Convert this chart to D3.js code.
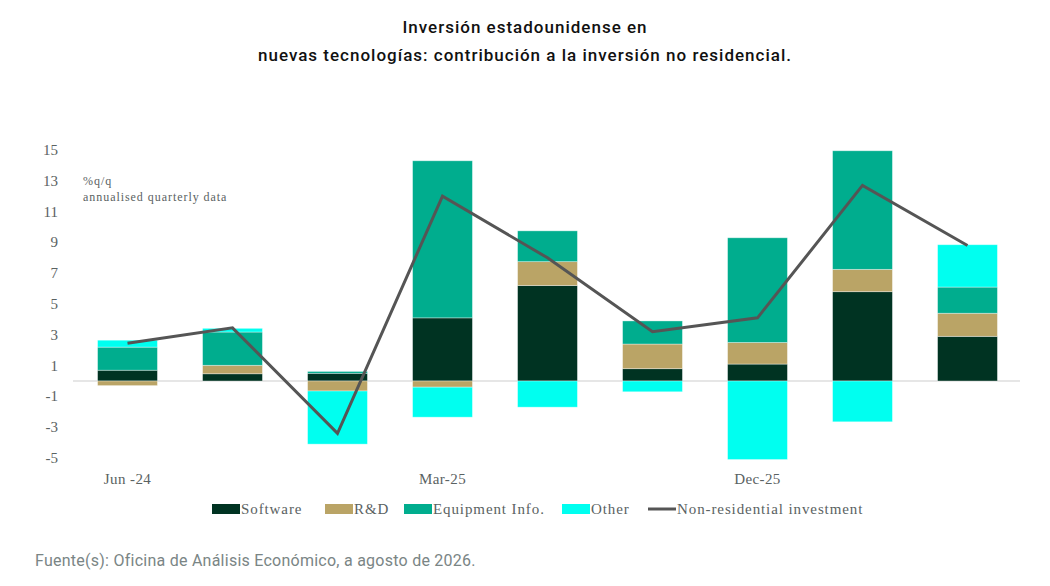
<!DOCTYPE html>
<html>
<head>
<meta charset="utf-8">
<script src="https://cdn.jsdelivr.net/npm/d3@7"></script>
<style>
  body { margin:0; background:#fff; }
  svg { display:block; }
</style>
</head>
<body>
<svg id="chart" width="1050" height="586"></svg>
<script>
// quarters, only some get a label on the axis
let quarters = ["Jun-24","Sep-24","Dec-24","Mar-25","Jun-25","Sep-25","Dec-25","Mar-26","Jun-26"];
let tickLabels = {"Jun-24":"Jun -24", "Mar-25":"Mar-25", "Dec-25":"Dec-25"};

let software  = [0.7, 0.47, 0.5, 4.1, 6.2, 0.8, 1.1, 5.8, 2.9];
let rnd       = [-0.3, 0.55, -0.65, -0.4, 1.55, 1.6, 1.4, 1.45, 1.5];
let equipment = [1.5, 2.16, 0.12, 10.2, 2.0, 1.5, 6.8, 7.7, 1.7];
let other     = [0.45, 0.24, -3.45, -1.95, -1.7, -0.7, -5.1, -2.65, 2.75];
let nonres    = [2.45, 3.45, -3.4, 12.0, 8.0, 3.2, 4.1, 12.7, 8.8];

let yTicks = [15, 13, 11, 9, 7, 5, 3, 1, -1, -3, -5];

let seriesNames = ["Software", "R&D", "Equipment Info.", "Other"];
let seriesVals  = [software, rnd, equipment, other];
let colors      = ["#003322", "#baa466", "#00ad8e", "#00fff0"];

let svg = d3.select("#chart");

let x = d3.scaleBand().domain(quarters).range([75, 1020]).paddingInner(0.43).paddingOuter(0.215);
let y = d3.scaleLinear().domain([-5, 15]).range([458, 150]);

// stacking with positive/negative split
let rows = quarters.map((q, i) => {
  let r = {q: q};
  seriesNames.forEach((s, k) => r[s] = seriesVals[k][i]);
  return r;
});
let stacked = d3.stack().keys(seriesNames).offset(d3.stackOffsetDiverging)(rows);

// title
let title = svg.append("g").attr("font-family", "Roboto").attr("font-weight", 500)
  .attr("font-size", 17).attr("letter-spacing", 1).attr("fill", "#111").attr("text-anchor", "middle");
title.append("text").attr("x", 525).attr("y", 33).text("Inversión estadounidense en");
title.append("text").attr("x", 525).attr("y", 61).text("nuevas tecnologías: contribución a la inversión no residencial.");

// y axis labels
svg.append("g").selectAll("text").data(yTicks).join("text")
  .attr("x", 58).attr("y", d => y(d) + 5)
  .attr("text-anchor", "end")
  .attr("font-family", "Liberation Serif").attr("font-size", 15).attr("fill", "#5a6262")
  .text(d => d);

// zero line
svg.append("line").attr("x1", 73).attr("x2", 1020).attr("y1", y(0)).attr("y2", y(0))
  .attr("stroke", "#e6e6e6").attr("stroke-width", 2);

// unit note
let note = svg.append("g").attr("font-family", "Liberation Serif").attr("font-size", 12)
  .attr("fill", "#5a6262").attr("letter-spacing", 0.95);
note.append("text").attr("x", 83).attr("y", 185).text("%q/q");
note.append("text").attr("x", 83).attr("y", 201).text("annualised quarterly data");

// bars
svg.append("g").selectAll("g").data(stacked).join("g")
  .attr("fill", (d, k) => colors[k])
  .selectAll("rect").data(d => d).join("rect")
  .attr("x", d => x(d.data.q))
  .attr("width", x.bandwidth())
  .attr("y", d => y(Math.max(d[0], d[1])))
  .attr("height", d => Math.abs(y(d[0]) - y(d[1])))
  .attr("stroke", "#ffffff").attr("stroke-opacity", 0.45).attr("stroke-width", 0.8);

// line
let line = d3.line().x((d, i) => x(quarters[i]) + x.bandwidth() / 2).y(d => y(d));
svg.append("path").datum(nonres).attr("d", line)
  .attr("fill", "none").attr("stroke", "#555555").attr("stroke-width", 3);

// x labels
svg.append("g").selectAll("text").data(quarters.filter(q => tickLabels[q])).join("text")
  .attr("x", d => x(d) + x.bandwidth() / 2).attr("y", 484)
  .attr("text-anchor", "middle").attr("letter-spacing", 0.4)
  .attr("font-family", "Liberation Serif").attr("font-size", 15).attr("fill", "#5a6262")
  .text(d => tickLabels[d]);

// legend
let legendItems = [
  {name: "Software", color: colors[0], x: 212, type: "rect"},
  {name: "R&D", color: colors[1], x: 325, type: "rect"},
  {name: "Equipment Info.", color: colors[2], x: 404, type: "rect"},
  {name: "Other", color: colors[3], x: 562, type: "rect"},
  {name: "Non-residential investment", color: "#555555", x: 648, type: "line"}
];
let leg = svg.append("g").selectAll("g").data(legendItems).join("g")
  .attr("transform", d => `translate(${d.x},509)`);
leg.filter(d => d.type == "rect").append("rect")
  .attr("x", 0).attr("y", -5).attr("width", 28).attr("height", 10).attr("fill", d => d.color);
leg.filter(d => d.type == "line").append("line")
  .attr("x1", 0).attr("x2", 28).attr("y1", 0).attr("y2", 0)
  .attr("stroke", d => d.color).attr("stroke-width", 3);
leg.append("text").attr("x", 29).attr("y", 5).attr("letter-spacing", 0.9)
  .attr("font-family", "Liberation Serif").attr("font-size", 15).attr("fill", "#5a6262")
  .text(d => d.name);

// source
svg.append("text").attr("x", 35).attr("y", 566).attr("letter-spacing", 0.25)
  .attr("font-family", "Roboto").attr("font-size", 16).attr("fill", "#7a8585")
  .text("Fuente(s): Oficina de Análisis Económico, a agosto de 2026.");
</script>
</body>
</html>
